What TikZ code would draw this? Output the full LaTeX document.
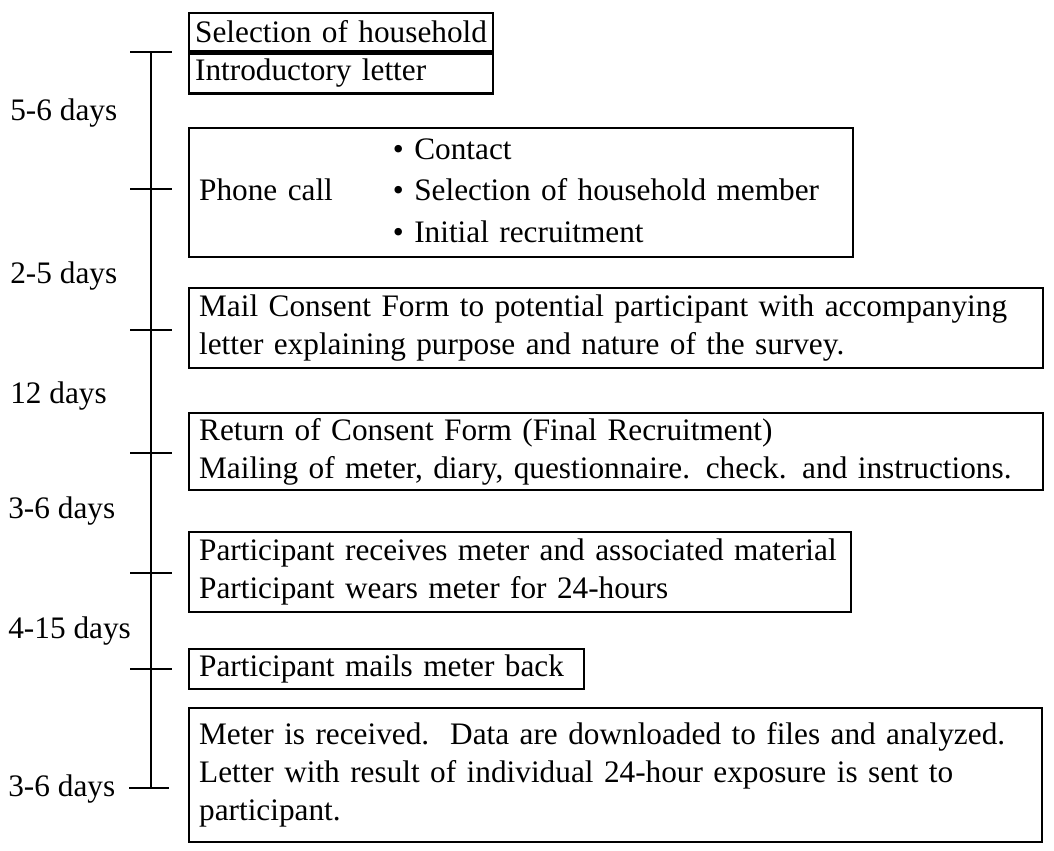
\documentclass[tikz,border=0pt]{standalone}
\usepackage{fontspec}
\setmainfont{Liberation Serif}
\usepackage{tikz}

\tikzset{
  stagebox/.style={draw, line width=1.3pt, anchor=north west, align=left, inner xsep=0.2cm, inner ysep=1pt, font=\fontsize{17.8}{21.6}\selectfont},
  daytext/.style={anchor=west, inner sep=0pt, font=\fontsize{17.8}{21.6}\selectfont},
  timeline/.style={line width=1.3pt}
}

\begin{document}
\begin{tikzpicture}[x=0.2mm,y=-0.2mm]
          \useasboundingbox (0,0) rectangle (1054,850);
          % time line and ticks
          \coordinate (t1) at (151,52);
          \coordinate (t2) at (151,189);
          \coordinate (t3) at (151,330);
          \coordinate (t4) at (151,453);
          \coordinate (t5) at (151,573);
          \coordinate (t6) at (151,669);
          \coordinate (t7) at (151,788);
          \draw[timeline] (t1) -- (t7);
          \draw[timeline] (t1) ++(-21,0) -- ++(42,0);
          \draw[timeline] (t2) ++(-21,0) -- ++(42,0);
          \draw[timeline] (t3) ++(-21,0) -- ++(42,0);
          \draw[timeline] (t4) ++(-21,0) -- ++(42,0);
          \draw[timeline] (t5) ++(-21,0) -- ++(42,0);
          \draw[timeline] (t6) ++(-21,0) -- ++(42,0);
          \draw[timeline] (t7) ++(-22,0) -- ++(40,0);
          % durations
          \node[daytext] (d1) at (10,113) {5-6 days};
          \node[daytext] (d2) at (10,276) {2-5 days};
          \node[daytext] (d3) at (10,396) {12 days};
          \node[daytext] (d4) at (8,511) {3-6 days};
          \node[daytext] (d5) at (8,631) {4-15 days};
          \node[daytext] (d6) at (8,789) {3-6 days};
          % stages
          \node[stagebox, inner xsep=0.12cm, text width=5.84cm, minimum height=0.76cm] (sel) at (188,12) {Selection of household};
          \node[stagebox, inner xsep=0.12cm, text width=5.84cm, minimum height=0.8cm] (intro) at (sel.south west) {Introductory letter};
          \node[stagebox, text width=12.88cm, minimum height=2.44cm] (phone) at (188,127) {\def\arraystretch{1.1}\begin{tabular}{@{}l@{\hspace{1.2cm}}l@{}}
            & \textbullet\ Contact\\
            Phone call & \textbullet\ Selection of household member\\
            & \textbullet\ Initial recruitment
          \end{tabular}};
          \node[stagebox, text width=16.68cm, minimum height=1.6cm] (mail) at (188,287) {Mail Consent Form to potential participant with accompanying\\letter explaining purpose and nature of the survey.};
          \node[stagebox, text width=16.68cm, minimum height=1.54cm] (consent) at (188,412) {Return of Consent Form (Final Recruitment)\\Mailing of meter, diary, questionnaire. check. and instructions.};
          \node[stagebox, text width=12.84cm, minimum height=1.6cm] (wear) at (188,531) {Participant receives meter and associated material\\Participant wears meter for 24-hours};
          \node[stagebox, text width=7.5cm, minimum height=0.8cm] (back) at (188,648) {Participant mails meter back};
          \node[stagebox, text width=16.66cm, minimum height=2.68cm] (result) at (188,707) {Meter is received.~~Data are downloaded to files and analyzed.\\Letter with result of individual 24-hour exposure is sent to\\participant.};
        \end{tikzpicture}
\end{document}
